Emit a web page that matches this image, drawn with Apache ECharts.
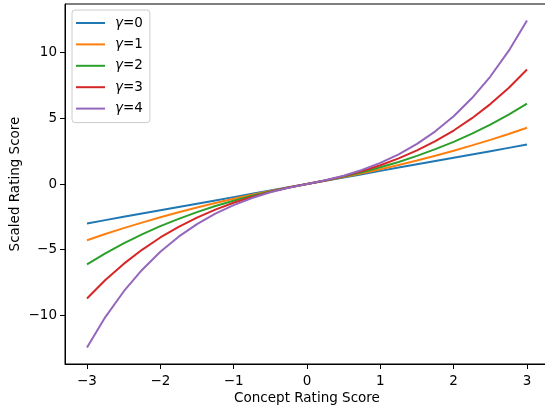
<!DOCTYPE html>
<html>
<head>
<meta charset="utf-8">
<script src="https://cdn.jsdelivr.net/npm/echarts@6/dist/echarts.min.js"></script>
<style>
  html, body { margin: 0; padding: 0; background: #fff; }
  #main { width: 545px; height: 411px; }
</style>
</head>
<body>
<div id="main"></div>
<script>
// concept rating score (x)
const xs = [-3, -2.75, -2.5, -2.25, -2, -1.75, -1.5, -1.25, -1, -0.75, -0.5, -0.25, 0,
            0.25, 0.5, 0.75, 1, 1.25, 1.5, 1.75, 2, 2.25, 2.5, 2.75, 3];

// scaled rating score per gamma
const gamma0 = [-3, -2.75, -2.5, -2.25, -2, -1.75, -1.5, -1.25, -1, -0.75, -0.5, -0.25, 0,
                0.25, 0.5, 0.75, 1, 1.25, 1.5, 1.75, 2, 2.25, 2.5, 2.75, 3];
const gamma1 = [-4.28, -3.81, -3.36, -2.94, -2.53, -2.15, -1.79, -1.45, -1.13, -0.82, -0.53, -0.26, 0,
                0.26, 0.53, 0.82, 1.13, 1.45, 1.79, 2.15, 2.53, 2.94, 3.36, 3.81, 4.28];
const gamma2 = [-6.11, -5.28, -4.52, -3.84, -3.21, -2.65, -2.14, -1.68, -1.27, -0.90, -0.56, -0.27, 0,
                0.27, 0.56, 0.90, 1.27, 1.68, 2.14, 2.65, 3.21, 3.84, 4.52, 5.28, 6.11];
const gamma3 = [-8.72, -7.31, -6.08, -5.01, -4.07, -3.26, -2.56, -1.95, -1.43, -0.98, -0.60, -0.27, 0,
                0.27, 0.60, 0.98, 1.43, 1.95, 2.56, 3.26, 4.07, 5.01, 6.08, 7.31, 8.72];
const gamma4 = [-12.45, -10.13, -8.18, -6.54, -5.16, -4.01, -3.05, -2.26, -1.61, -1.07, -0.63, -0.28, 0,
                0.28, 0.63, 1.07, 1.61, 2.26, 3.05, 4.01, 5.16, 6.54, 8.18, 10.13, 12.45];

const xTicks = [-3, -2, -1, 0, 1, 2, 3];
const yTicks = [-10, -5, 0, 5, 10];

const names = ['γ=0', 'γ=1', 'γ=2', 'γ=3', 'γ=4'];
const allSeries = [gamma0, gamma1, gamma2, gamma3, gamma4];
const colors = ['#1f77b4', '#ff7f0e', '#2ca02c', '#d62728', '#9467bd'];

const font = 'DejaVu Sans';
const minus = v => String(v).replace('-', '\u2212');

let myChart = echarts.init(document.getElementById('main'));

myChart.setOption({
    animation: false,
    color: colors,
    textStyle: { fontFamily: font },
    grid: {
        left: 65,
        top: 4,
        width: 484,
        height: 360,
        outerBoundsMode: 'none',
        containLabel: false,
        show: true,
        borderColor: '#000',
        borderWidth: 1,
        backgroundColor: 'transparent'
    },
    legend: {
        orient: 'vertical',
        left: 72,
        top: 10,
        data: names,
        icon: 'rect',
        itemWidth: 29,
        itemHeight: 2,
        itemGap: 7.4,
        padding: [6, 7, 7, 4],
        backgroundColor: 'rgba(255,255,255,0.8)',
        borderColor: '#cccccc',
        borderWidth: 1,
        borderRadius: 3,
        formatter: name => '{g|γ}' + name.slice(1),
        textStyle: {
            fontFamily: font,
            fontSize: 13.5,
            color: '#000',
            lineHeight: 14,
            rich: {
                g: { fontFamily: font, fontStyle: 'italic', fontSize: 13.5, color: '#000', padding: [0, 0, 0, 5] }
            }
        }
    },
    xAxis: {
        type: 'value',
        min: -3.3,
        max: 3.3,
        name: 'Concept Rating Score',
        nameLocation: 'middle',
        nameGap: 27,
        nameMoveOverlap: false,
        nameTextStyle: { fontFamily: font, fontSize: 13.5, color: '#000' },
        axisLine: { show: true, onZero: false, lineStyle: { color: '#000', width: 1 } },
        axisTick: { show: true, length: 5, customValues: xTicks, lineStyle: { color: '#000', width: 1 } },
        axisLabel: {
            customValues: xTicks,
            margin: 10,
            fontFamily: font,
            fontSize: 13.5,
            color: '#000',
            formatter: minus
        },
        splitLine: { show: false }
    },
    yAxis: {
        type: 'value',
        min: -13.7,
        max: 13.7,
        name: 'Scaled Rating Score',
        nameLocation: 'middle',
        nameGap: 43,
        nameMoveOverlap: false,
        nameTextStyle: { fontFamily: font, fontSize: 13.5, color: '#000' },
        axisLine: { show: true, onZero: false, lineStyle: { color: '#000', width: 1 } },
        axisTick: { show: true, length: 5, customValues: yTicks, lineStyle: { color: '#000', width: 1 } },
        axisLabel: {
            customValues: yTicks,
            margin: 8,
            fontFamily: font,
            fontSize: 13.5,
            color: '#000',
            formatter: minus
        },
        splitLine: { show: false }
    },
    series: allSeries.map((vals, i) => ({
        name: names[i],
        type: 'line',
        symbol: 'none',
        smooth: false,
        lineStyle: { width: 2, color: colors[i] },
        data: xs.map((x, j) => [x, vals[j]])
    }))
});
</script>
</body>
</html>
